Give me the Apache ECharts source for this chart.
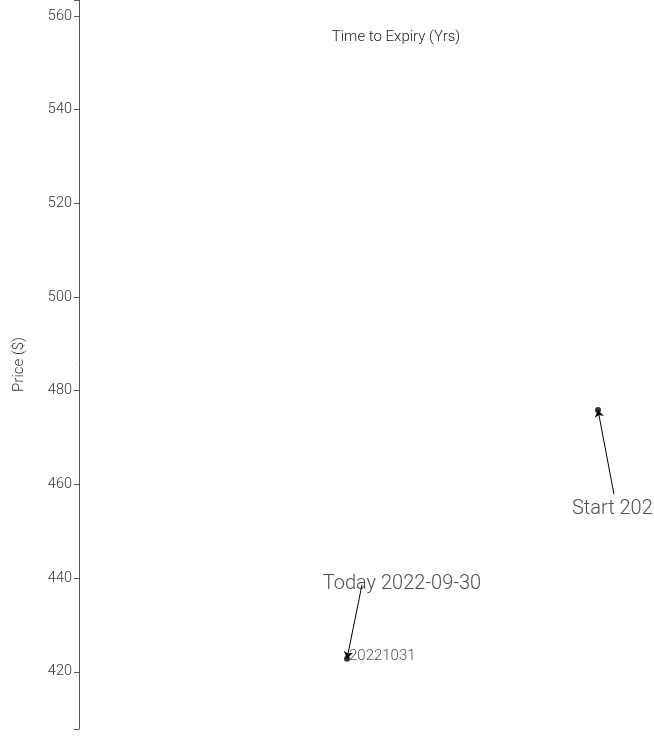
<!DOCTYPE html>
<html>
<head>
<meta charset="utf-8">
<script src="https://cdn.jsdelivr.net/npm/echarts@6/dist/echarts.min.js"></script>
<style>
html,body{margin:0;padding:0;background:#fff;}
#chart{width:654px;height:741px;}
</style>
</head>
<body>
<div id="chart"></div>
<script>
// Data
const yTicks = [420, 440, 460, 480, 500, 520, 540, 560];
const yDomain = [407.8, 563.4];
const xDomain = [0, 1];
const pointNames = ['20221031', 'Start'];
const pointX = [0.4661, 0.9026];
const pointY = [422.8, 475.9];
const pointLabels = ['20221031', ''];
const noteTexts = ['Today 2022-09-30', 'Start 2022-01-03'];
const noteX = [0.5617, 0.9857];
const noteY = [438.8, 454.7];
const connectorX = [0.4922, 0.9304];
const connectorY = [438.6, 457.9];
const chartTitle = 'Time to Expiry (Yrs)';

const FONT = 'Roboto';
const chart = echarts.init(document.getElementById('chart'), null, {renderer: 'canvas'});

const pointData = pointX.map((x, i) => ({
  value: [x, pointY[i]],
  name: pointNames[i],
  label: {show: pointLabels[i] !== '', formatter: pointLabels[i]}
}));
const noteData = noteX.map((x, i) => ({value: [x, noteY[i]], name: noteTexts[i]}));
const lineData = pointX.map((x, i) => ({coords: [[connectorX[i], connectorY[i]], [x, pointY[i]]]}));

chart.setOption({
  animation: false,
  textStyle: {fontFamily: FONT},
  title: {
    text: chartTitle, left: 396, top: 30, textAlign: 'center', padding: 0,
    textStyle: {fontFamily: FONT, fontSize: 15, fontWeight: 300, color: '#222'}
  },
  grid: {left: 79, right: 0, top: 0, height: 729, containLabel: false},
  xAxis: {
    type: 'value', position: 'top', min: xDomain[0], max: xDomain[1],
    axisLine: {show: false}, axisTick: {show: false}, axisLabel: {show: false}, splitLine: {show: false}
  },
  yAxis: {
    type: 'value', min: yDomain[0], max: yDomain[1],
    axisLine: {show: true, lineStyle: {color: '#555', width: 1}},
    axisTick: {show: true, length: 5, lineStyle: {color: '#555'}, customValues: [yDomain[0]].concat(yTicks, [yDomain[1]])},
    axisLabel: {color: '#333', fontSize: 14.5, fontWeight: 300, fontFamily: FONT, margin: 7, customValues: yTicks},
    splitLine: {show: false},
    name: 'Price ($)', nameLocation: 'middle', nameGap: 52, nameRotate: 90,
    nameTextStyle: {fontFamily: FONT, fontSize: 15, fontWeight: 300, color: '#333'}
  },
  series: [
    {
      type: 'lines', coordinateSystem: 'cartesian2d', data: lineData,
      lineStyle: {color: '#000', width: 1, opacity: 1},
      symbol: ['none', 'arrow'], symbolSize: 7, silent: true, z: 3
    },
    {
      type: 'scatter', data: pointData, symbol: 'circle', symbolSize: 6,
      itemStyle: {color: '#000'},
      label: {position: 'right', distance: -1, offset: [0, -2], color: '#222', fontSize: 15, fontWeight: 300, fontFamily: FONT},
      z: 4
    },
    {
      type: 'scatter', data: noteData, symbolSize: 0, silent: true,
      label: {show: true, position: 'inside', formatter: '{b}', color: '#222', fontSize: 20, fontWeight: 300, fontFamily: FONT},
      z: 5
    }
  ]
});
</script>
</body>
</html>
